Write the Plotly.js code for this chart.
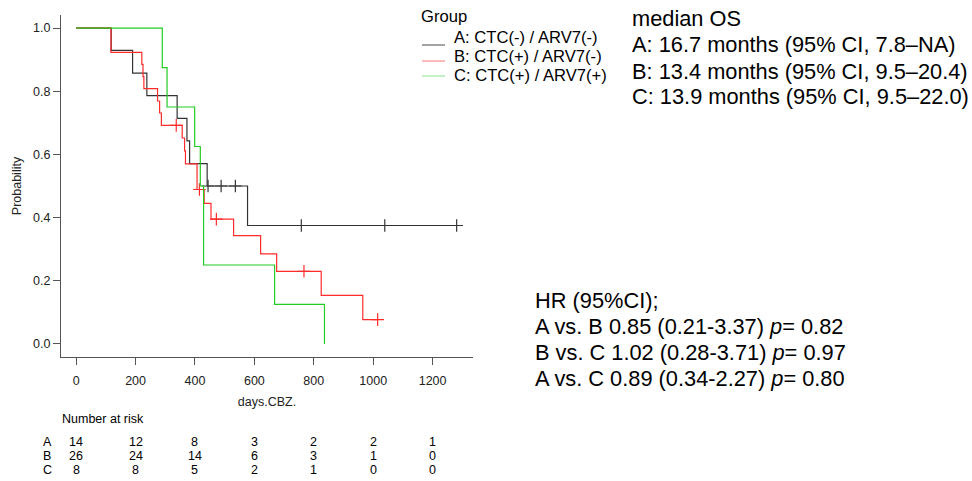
<!DOCTYPE html>
<html><head><meta charset="utf-8">
<script src="https://cdn.plot.ly/plotly-3.0.1.min.js"></script>
<style>html,body{margin:0;padding:0;background:#fff}</style>
</head><body><div id="chart" style="width:972px;height:481px"></div>
<script>
// ---- data ----
const groupNames = ['A: CTC(-) / ARV7(-)', 'B: CTC(+) / ARV7(-)', 'C: CTC(+) / ARV7(+)'];
const groupLetters = ['A', 'B', 'C'];

const timesA = [118, 190, 238, 340, 373, 382, 441, 577];
const survA  = [0.929, 0.857, 0.786, 0.714, 0.643, 0.571, 0.500, 0.375];
const censorA = [444, 488, 536, 758, 1039, 1281];

const timesB = [117, 221, 225, 228, 274, 281, 287, 357, 365, 368, 407, 431, 454, 530, 621, 675, 825, 965];
const survB  = [0.923, 0.885, 0.846, 0.808, 0.769, 0.731, 0.692, 0.652, 0.611, 0.570, 0.489, 0.445, 0.395, 0.343, 0.285, 0.230, 0.154, 0.077];
const censorB = [337, 415, 472, 767, 1015];

const timesC = [290, 306, 399, 418, 429, 668, 836];
const survC  = [0.875, 0.750, 0.625, 0.500, 0.250, 0.125, 0.000];
const censorC = [];

const riskTimes = [0, 200, 400, 600, 800, 1000, 1200];
const riskA = [14, 12, 8, 3, 2, 2, 1];
const riskB = [26, 24, 14, 6, 3, 1, 0];
const riskC = [8, 8, 5, 2, 1, 0, 0];

const medianLines = ['median OS',
  'A: 16.7 months (95% CI, 7.8\u2013NA)',
  'B: 13.4 months (95% CI, 9.5\u201320.4)',
  'C: 13.9 months (95% CI, 9.5\u201322.0)'];
const hrLines = ['HR (95%CI);',
  'A vs. B 0.85 (0.21-3.37) <i>p</i>= 0.82',
  'B vs. C 1.02 (0.28-3.71) <i>p</i>= 0.97',
  'A vs. C 0.89 (0.34-2.27) <i>p</i>= 0.80'];

// ---- styling ----
const W = 972, H = 481;
const FONT = 'Liberation Sans, Arial, sans-serif';
const lineColors = ['#333333', '#ff2b2b', '#22cc22'];
const legendColors = ['#666666', '#ff8a8a', '#9be89b'];
const px = v => v / W;
const py = v => 1 - v / H;

function survAt(times, surv, t) {
  let s = 1;
  for (let i = 0; i < times.length; i++) if (times[i] <= t) s = surv[i];
  return s;
}

const groups = [[timesA, survA, censorA], [timesB, survB, censorB], [timesC, survC, censorC]];
const traces = [];
groups.forEach(([t, s, c], g) => {
  const end = Math.max(t[t.length - 1], c.length ? c[c.length - 1] : 0);
  const xs = [0].concat(t);
  const ys = [1].concat(s);
  if (end > t[t.length - 1]) { xs.push(end); ys.push(s[s.length - 1]); }
  traces.push({
    x: xs, y: ys, type: 'scatter', mode: 'lines',
    line: {shape: 'hv', color: lineColors[g], width: 1.2},
    name: groupNames[g], showlegend: false, hoverinfo: 'skip'
  });
  if (c.length) {
    traces.push({
      x: c, y: c.map(v => survAt(t, s, v)), type: 'scatter', mode: 'markers',
      marker: {symbol: 'cross-thin', size: 9, line: {color: lineColors[g], width: 1.2}, color: lineColors[g]},
      showlegend: false, hoverinfo: 'skip'
    });
  }
});

const annotations = [];
const shapes = [];
// legend
annotations.push({text: 'Group', xref: 'paper', yref: 'paper', x: px(419), y: py(17),
  xanchor: 'left', yanchor: 'middle', showarrow: false, font: {family: FONT, size: 16.6, color: '#000'}});
const legTextY = [37.5, 56.5, 75.5];
const legLineY = [45, 61, 76];
groupNames.forEach((n, g) => {
  annotations.push({text: n, xref: 'paper', yref: 'paper', x: px(452), y: py(legTextY[g]),
    xanchor: 'left', yanchor: 'middle', showarrow: false, font: {family: FONT, size: 16.6, color: '#000'}});
  shapes.push({type: 'line', xref: 'paper', yref: 'paper', x0: px(422), x1: px(445),
    y0: py(legLineY[g]), y1: py(legLineY[g]), line: {color: legendColors[g], width: 1.2}});
});
// median OS block
const medY = [18, 45, 71, 97];
medianLines.forEach((t, i) => annotations.push({text: t, xref: 'paper', yref: 'paper', x: px(630), y: py(medY[i]),
  xanchor: 'left', yanchor: 'middle', showarrow: false, font: {family: FONT, size: 21.8, color: '#000'}}));
// HR block
const hrY = [300, 326.5, 352, 378.5];
hrLines.forEach((t, i) => annotations.push({text: t, xref: 'paper', yref: 'paper', x: px(533), y: py(hrY[i]),
  xanchor: 'left', yanchor: 'middle', showarrow: false, font: {family: FONT, size: 21.8, color: '#000'}}));
// risk table
annotations.push({text: 'Number at risk', xref: 'paper', yref: 'paper', x: px(60), y: py(419),
  xanchor: 'left', yanchor: 'middle', showarrow: false, font: {family: FONT, size: 12.5, color: '#000'}});
const riskRows = [riskA, riskB, riskC];
const riskY = [442, 456, 470];
riskRows.forEach((row, g) => {
  annotations.push({text: groupLetters[g], xref: 'paper', yref: 'paper', x: px(47), y: py(riskY[g]),
    xanchor: 'center', yanchor: 'middle', showarrow: false, font: {family: FONT, size: 12.5, color: '#000'}});
  row.forEach((v, i) => annotations.push({text: String(v), xref: 'x', yref: 'paper', x: riskTimes[i], y: py(riskY[g]),
    xanchor: 'center', yanchor: 'middle', showarrow: false, font: {family: FONT, size: 12.5, color: '#000'}}));
});

const layout = {
  width: W, height: H,
  margin: {l: 0, r: 0, t: 0, b: 0, pad: 0},
  paper_bgcolor: '#fff', plot_bgcolor: '#fff',
  font: {family: FONT, size: 12.5, color: '#000'},
  showlegend: false,
  xaxis: {
    domain: [px(61), px(473)], range: [-51, 1336], automargin: false,
    tickmode: 'array', tickvals: riskTimes, ticktext: riskTimes.map(String),
    ticks: 'outside', ticklen: 7, tickwidth: 1, tickcolor: '#555', ticklabelstandoff: 5,
    showline: true, linecolor: '#555', linewidth: 1, showgrid: false, zeroline: false,
    tickfont: {family: FONT, size: 12.5, color: '#222'},
    title: {text: 'days.CBZ.', font: {family: FONT, size: 12.5, color: '#222'}, standoff: 10}
  },
  yaxis: {
    domain: [py(356.6), py(15.4)], range: [-0.04, 1.04], automargin: false,
    tickvals: [0, 0.2, 0.4, 0.6, 0.8, 1.0], tickformat: '.1f',
    ticks: 'outside', ticklen: 7, tickwidth: 1, tickcolor: '#555',
    showline: true, linecolor: '#555', linewidth: 1, showgrid: false, zeroline: false,
    tickfont: {family: FONT, size: 12.5, color: '#222'},
    title: {text: 'Probability', font: {family: FONT, size: 12.5, color: '#222'}, standoff: 8}
  },
  annotations: annotations,
  shapes: shapes
};

Plotly.newPlot('chart', traces, layout, {staticPlot: true, displayModeBar: false});
</script></body></html>
